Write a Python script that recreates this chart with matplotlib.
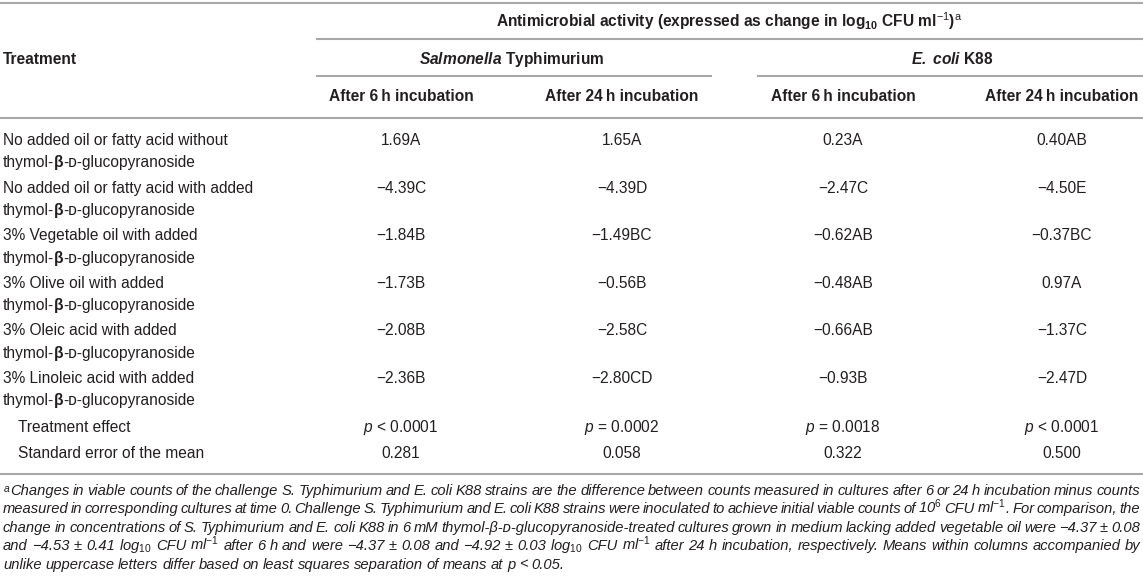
import re
import matplotlib.pyplot as plt

plt.rcParams['font.family'] = ['Liberation Sans', 'DejaVu Sans']
plt.rcParams['mathtext.fontset'] = 'custom'
plt.rcParams['mathtext.rm'] = 'Liberation Sans'
plt.rcParams['mathtext.it'] = 'Liberation Sans:italic'
plt.rcParams['mathtext.bf'] = 'Liberation Sans:bold'
plt.rcParams['mathtext.bfit'] = 'Liberation Sans:italic:bold'

# table data
treatments = [
    "No added oil or fatty acid without",
    "No added oil or fatty acid with added",
    "3% Vegetable oil with added",
    "3% Olive oil with added",
    "3% Oleic acid with added",
    "3% Linoleic acid with added",
]
salm_6h = [1.69, -4.39, -1.84, -1.73, -2.08, -2.36]
salm_6h_grp = ["A", "C", "B", "B", "B", "B"]
salm_24h = [1.65, -4.39, -1.49, -0.56, -2.58, -2.80]
salm_24h_grp = ["A", "D", "BC", "B", "C", "CD"]
ecoli_6h = [0.23, -2.47, -0.62, -0.48, -0.66, -0.93]
ecoli_6h_grp = ["A", "C", "AB", "AB", "AB", "B"]
ecoli_24h = [0.40, -4.50, -0.37, 0.97, -1.37, -2.47]
ecoli_24h_grp = ["AB", "E", "BC", "A", "C", "D"]
p_values = ["< 0.0001", "= 0.0002", "= 0.0018", "< 0.0001"]
sem = [0.281, 0.058, 0.322, 0.500]

footnote = [
    "$^{a}$Changes in viable counts of the challenge S. Typhimurium and E. coli K88 strains are the difference between counts measured in cultures after 6 or 24 h incubation minus counts",
    "measured in corresponding cultures at time 0. Challenge S. Typhimurium and E. coli K88 strains were inoculated to achieve initial viable counts of 10$^{6}$ CFU ml$^{-1}$. For comparison, the",
    "change in concentrations of S. Typhimurium and E. coli K88 in 6 mM thymol-\u03b2-\u1d05-glucopyranoside-treated cultures grown in medium lacking added vegetable oil were \u22124.37 \u00b1 0.08",
    "and \u22124.53 \u00b1 0.41 log$_{10}$ CFU ml$^{-1}$ after 6 h and were \u22124.37 \u00b1 0.08 and \u22124.92 \u00b1 0.03 log$_{10}$ CFU ml$^{-1}$ after 24 h incubation, respectively. Means within columns accompanied by",
    "unlike uppercase letters differ based on least squares separation of means at p < 0.05.",
]

TXT = '#231f20'
RULE = '#a8a8a8'
FS = 11.2
FS_NOTE = 10.6

fig = plt.figure(figsize=(11.43, 5.83), dpi=100)
ax = fig.add_axes([0, 0, 1, 1])
ax.set_xlim(0, 1143)
ax.set_ylim(583, 0)
ax.axis('off')
renderer = fig.canvas.get_renderer()

col_x = [401, 622, 843, 1062]
left = 3
W = 1140


def rule(y, x0=0, x1=1143):
    ax.plot([x0, x1], [y, y], color=RULE, lw=1.5, solid_capstyle='butt')


def txt(x, y, s, ha='left', size=FS, **kw):
    # y is the visual middle of the line, baseline sits a bit lower
    return ax.text(x, y + 5, s, ha=ha, va='baseline', fontsize=size, color=TXT, **kw)


def runs(x, y, parts, size=FS):
    for s, kw in parts:
        t = txt(x, y, s, size=size, **kw)
        x += t.get_window_extent(renderer).width


def word(y, w, size):
    # a leading script ("$^{a}$Changes") is drawn on its own, the rest keeps its scripts attached
    pieces = [p for p in re.findall(r'[^$]*(?:\$[^$]*\$)?', w) if p]
    arts = [txt(0, y, p, size=size, style='italic') for p in pieces]
    widths = [a.get_window_extent(renderer).width for a in arts]
    return arts, widths


def justified(y, line, size=FS_NOTE, stretch=True):
    words = [word(y, w, size) for w in line.split(' ')]
    total = sum(sum(ws) for _, ws in words)
    space = size * 100 / 72 * 0.25
    if stretch:
        space = max((W - left - total) / (len(words) - 1), 1.5)
    x = left
    for arts, widths in words:
        for a, w in zip(arts, widths):
            a.set_x(x)
            x += w
        x += space


# header
rule(3)
txt((316 + 1143) / 2, 22,
    r"Antimicrobial activity (expressed as change in log$_{\mathbf{10}}$ CFU ml$^{\mathrm{-1}}$)$^{\mathrm{a}}$",
    ha='center', weight='bold')
rule(39, 316, 1143)
txt(left, 59, "Treatment", weight='bold')
txt((col_x[0] + col_x[1]) / 2, 59, r"$\mathbfit{Salmonella}$ Typhimurium", ha='center', weight='bold')
txt((col_x[2] + col_x[3]) / 2, 59, r"$\mathbfit{E.\ coli}$ K88", ha='center', weight='bold')
rule(76, 316, 712)
rule(76, 757, 1143)
for i, x in enumerate(col_x):
    hrs = "6" if i % 2 == 0 else "24"
    txt(x, 96, "After " + hrs + "\u2009h incubation", ha='center', weight='bold')
rule(118)

# body
cols = [(salm_6h, salm_6h_grp), (salm_24h, salm_24h_grp),
        (ecoli_6h, ecoli_6h_grp), (ecoli_24h, ecoli_24h_grp)]
row_h = 47.6
for r, name in enumerate(treatments):
    y = 140 + r * row_h
    txt(left, y, name)
    runs(left, y + 22.5, [("thymol-", {}), ("\u03b2", {'weight': 'bold'}),
                          ("-\u1d05-glucopyranoside", {})])
    for x, (vals, grp) in zip(col_x, cols):
        s = f"{vals[r]:.2f}".replace('-', '\u2212') + grp[r]
        txt(x, y, s, ha='center')

txt(18, 427, "Treatment effect")
for x, p in zip(col_x, p_values):
    txt(x, 427, "$p$ " + p, ha='center')
txt(18, 453, "Standard error of the mean")
for x, v in zip(col_x, sem):
    txt(x, 453, f"{v:.3f}", ha='center')
rule(474)

# footnote
for i, line in enumerate(footnote):
    justified(490 + i * 18.4, line, stretch=(i < len(footnote) - 1))

fig.savefig("out.png", dpi=100)
